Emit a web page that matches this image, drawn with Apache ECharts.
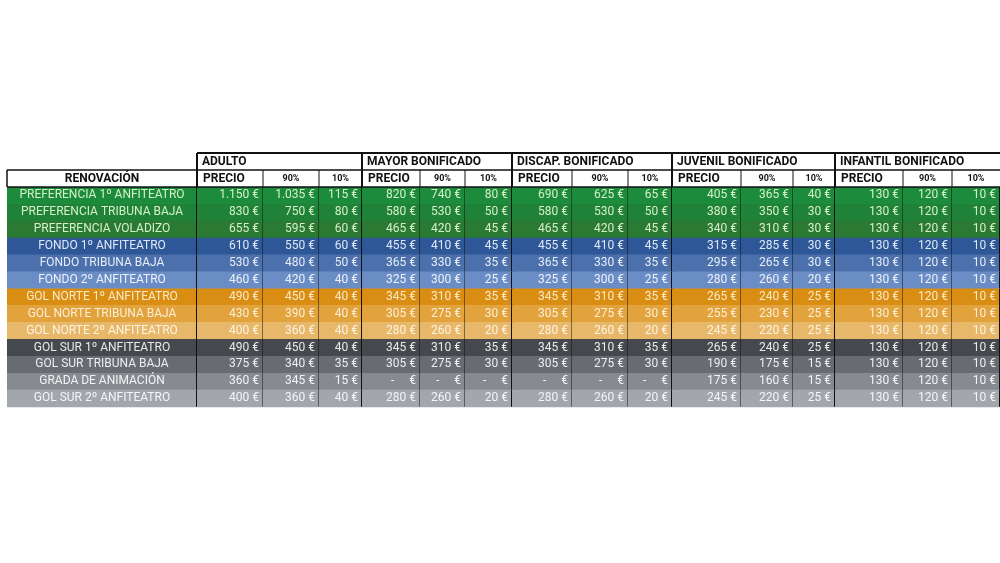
<!DOCTYPE html>
<html>
  <head>
    <meta charset="utf-8" />
    <title>Renovación</title>
    <script src="https://cdn.jsdelivr.net/npm/echarts@6/dist/echarts.min.js"></script>
  </head>
  <body style="margin:0;background:#fff">
    <div id="chart" style="width:1000px;height:563px"></div>
    <script type="text/javascript">
      // datos
      var groups = ["ADULTO", "MAYOR BONIFICADO", "DISCAP. BONIFICADO", "JUVENIL BONIFICADO", "INFANTIL BONIFICADO"];
      var subHeads = ["PRECIO", "90%", "10%"];
      var rowLabels = [
        "PREFERENCIA 1º ANFITEATRO", "PREFERENCIA TRIBUNA BAJA", "PREFERENCIA VOLADIZO",
        "FONDO 1º ANFITEATRO", "FONDO TRIBUNA BAJA", "FONDO 2º ANFITEATRO",
        "GOL NORTE 1º ANFITEATRO", "GOL NORTE TRIBUNA BAJA", "GOL NORTE 2º ANFITEATRO",
        "GOL SUR 1º ANFITEATRO", "GOL SUR TRIBUNA BAJA", "GRADA DE ANIMACIÓN", "GOL SUR 2º ANFITEATRO"
      ];
      var adulto = [["1.150","1.035","115"],["830","750","80"],["655","595","60"],["610","550","60"],["530","480","50"],["460","420","40"],["490","450","40"],["430","390","40"],["400","360","40"],["490","450","40"],["375","340","35"],["360","345","15"],["400","360","40"]];
      var mayor = [["820","740","80"],["580","530","50"],["465","420","45"],["455","410","45"],["365","330","35"],["325","300","25"],["345","310","35"],["305","275","30"],["280","260","20"],["345","310","35"],["305","275","30"],["-","-","-"],["280","260","20"]];
      var discap = [["690","625","65"],["580","530","50"],["465","420","45"],["455","410","45"],["365","330","35"],["325","300","25"],["345","310","35"],["305","275","30"],["280","260","20"],["345","310","35"],["305","275","30"],["-","-","-"],["280","260","20"]];
      var juvenil = [["405","365","40"],["380","350","30"],["340","310","30"],["315","285","30"],["295","265","30"],["280","260","20"],["265","240","25"],["255","230","25"],["245","220","25"],["265","240","25"],["190","175","15"],["175","160","15"],["245","220","25"]];
      var infantil = [["130","120","10"],["130","120","10"],["130","120","10"],["130","120","10"],["130","120","10"],["130","120","10"],["130","120","10"],["130","120","10"],["130","120","10"],["130","120","10"],["130","120","10"],["130","120","10"],["130","120","10"]];

      // layout
      var colEdges = [7, 197, 263, 319, 362, 420, 465, 512, 572, 628, 672, 741, 793, 835, 903, 952, 1000];
      var yTop = 153, hHead = 17, rowH = 16.9;
      var yData = yTop + 2 * hHead;
      var rowColors = ["#1c8c3c", "#1f8238", "#2a7a34", "#2d5796", "#4b70ab", "#6a8dc6",
        "#d98d12", "#e2a23c", "#e8b86a", "#45484d", "#686b72", "#878a91", "#a3a6ad"];
      var textColors = ["#d6f0c8", "#d6f0c8", "#d6f0c8", "#dfe8f7", "#e6edf8", "#eef2fa",
        "#fbe9c8", "#fbeed6", "#fdf3e2", "#e9e9ea", "#eeeeef", "#f3f3f4", "#f5f5f6"];
      var FONT = "'Liberation Sans Narrow', 'Roboto', sans-serif";

      var tables = [adulto, mayor, discap, juvenil, infantil];
      var cells = [];
      rowLabels.forEach(function (lab, r) {
        cells.push([r, 0, lab]);
        tables.forEach(function (t, g) {
          t[r].forEach(function (v, k) {
            cells.push([r, 1 + g * 3 + k, v === "-" ? "-     €" : v + " €"]);
          });
        });
      });

      var chart = echarts.init(document.getElementById("chart"));
      chart.setOption({
        animation: false,
        grid: { left: 0, right: 0, top: 0, bottom: 0 },
        xAxis: { type: "value", min: 0, max: 1000, show: false },
        yAxis: { type: "value", min: 0, max: 563, inverse: true, show: false },
        series: [
          {
            type: "custom",
            data: cells,
            renderItem: function (params, api) {
              var r = api.value(0), c = api.value(1);
              var txt = cells[params.dataIndex][2];
              var p0 = api.coord([colEdges[c], yData + r * rowH]);
              var p1 = api.coord([colEdges[c + 1], yData + (r + 1) * rowH]);
              var w = p1[0] - p0[0], h = p1[1] - p0[1];
              var isLabel = c === 0;
              var sub = (c - 1) % 3;
              var lineW = isLabel || sub === 2 ? 2 : 1;
              return {
                type: "group",
                children: [
                  { type: "rect", shape: { x: p0[0], y: p0[1], width: w, height: h + 0.5 },
                    style: { fill: rowColors[r] } },
                  { type: "line", shape: { x1: p1[0], y1: p0[1], x2: p1[0], y2: p1[1] },
                    style: { stroke: "#111", lineWidth: lineW } },
                  { type: "text", x: isLabel ? p0[0] + w / 2 : p1[0] - 4, y: p0[1] + h / 2,
                    style: { text: txt, fill: textColors[r], font: "12px " + FONT,
                      align: isLabel ? "center" : "right", verticalAlign: "middle" } }
                ]
              };
            }
          },
          {
            type: "custom",
            data: [[0]],
            renderItem: function (params, api) {
              var ch = [];
              var y0 = api.coord([0, yTop])[1], y1 = api.coord([0, yTop + hHead])[1], y2 = api.coord([0, yData])[1];
              var x = function (v) { return api.coord([v, 0])[0]; };
              ch.push({ type: "line", shape: { x1: x(colEdges[1]), y1: y0, x2: x(1000), y2: y0 }, style: { stroke: "#111", lineWidth: 2 } });
              ch.push({ type: "line", shape: { x1: x(colEdges[0]), y1: y1, x2: x(1000), y2: y1 }, style: { stroke: "#111", lineWidth: 1.5 } });
              ch.push({ type: "line", shape: { x1: x(colEdges[0]), y1: y2, x2: x(1000), y2: y2 }, style: { stroke: "#111", lineWidth: 1.5 } });
              ch.push({ type: "line", shape: { x1: x(colEdges[0]), y1: y1, x2: x(colEdges[0]), y2: y2 }, style: { stroke: "#111", lineWidth: 1.5 } });
              ch.push({ type: "text", x: (x(colEdges[0]) + x(colEdges[1])) / 2, y: (y1 + y2) / 2,
                style: { text: "RENOVACIÓN", font: "bold 12px " + FONT, fill: "#111", align: "center", verticalAlign: "middle" } });
              groups.forEach(function (g, i) {
                var gx = x(colEdges[1 + i * 3]);
                ch.push({ type: "line", shape: { x1: gx, y1: y0, x2: gx, y2: y2 }, style: { stroke: "#111", lineWidth: 2 } });
                ch.push({ type: "text", x: gx + 5, y: (y0 + y1) / 2,
                  style: { text: g, font: "bold 12px " + FONT, fill: "#111", verticalAlign: "middle" } });
                subHeads.forEach(function (s, k) {
                  var a = x(colEdges[1 + i * 3 + k]), b = x(colEdges[2 + i * 3 + k]);
                  if (k > 0) ch.push({ type: "line", shape: { x1: a, y1: y1, x2: a, y2: y2 }, style: { stroke: "#111", lineWidth: 1 } });
                  ch.push({ type: "text", x: k === 0 ? a + 6 : (a + b) / 2, y: (y1 + y2) / 2,
                    style: { text: s, font: (k === 0 ? "bold 12px " : "bold 9px ") + FONT, fill: "#111",
                      align: k === 0 ? "left" : "center", verticalAlign: "middle" } });
                });
              });
              return { type: "group", children: ch };
            }
          }
        ]
      });
    </script>
  </body>
</html>
